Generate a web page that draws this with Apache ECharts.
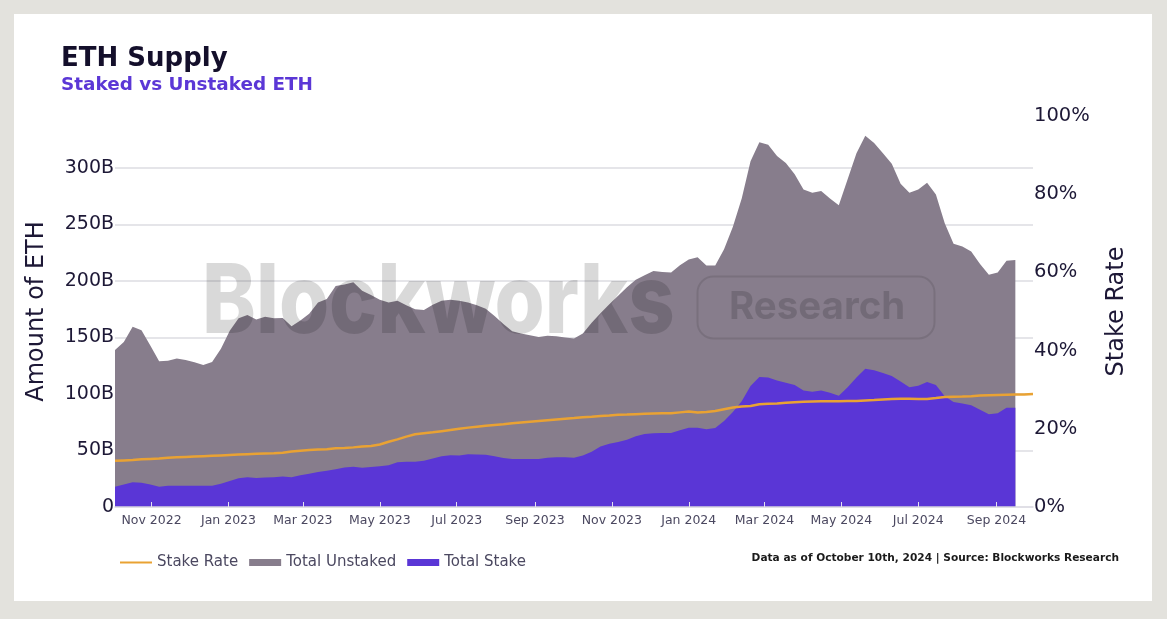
<!DOCTYPE html>
<html>
<head>
<meta charset="utf-8">
<title>ETH Supply</title>
<script src="https://cdn.jsdelivr.net/npm/echarts@6/dist/echarts.min.js"></script>
<style>
html, body { margin: 0; padding: 0; background: #e3e2dd; }
#panel { position: absolute; left: 14px; top: 14px; width: 1138px; height: 587px; background: #fff; }
#main { position: absolute; left: 0; top: 0; width: 1167px; height: 619px; }
</style>
</head>
<body>
<div id="panel"></div>
<div id="main"></div>
<script>
// weekly values, first point is 2022-10-03
var firstWeek = Date.UTC(2022, 9, 3);
var weekMs = 7 * 24 * 3600 * 1000;

// billions
var totalUnstaked = [139, 146, 159.5, 156.5, 143, 129, 129.5, 131.5, 130, 128, 125.7, 128.3, 140, 156, 167, 170, 166, 168.4, 167, 167.3,
    160, 165, 171, 181, 184, 195.6, 197, 198.8, 191.4, 187.5, 183.5, 181, 182.6, 178.5, 175, 174.3, 179, 182.5, 183.5, 182.5,
    181, 178.5, 175.5, 169, 162, 155.6, 153.5, 152, 150.4, 151.5, 151, 150, 149, 153.5, 163, 171.5, 179.5, 187, 194.5, 201,
    205, 208.8, 208, 207.5, 214, 219, 221, 213.6, 213.6, 228, 248, 273, 306, 322.7, 320.5, 310.5, 304.5, 294.5, 281, 278,
    279.6, 273, 267, 290, 313, 328.6, 322, 313, 303.7, 286, 278, 281, 287, 276.5, 251, 233, 230.5, 226, 215, 205.5,
    207.5, 218, 218.6];
var totalStake = [18, 20, 21.8, 21.5, 20, 18, 18.9, 18.9, 18.9, 18.9, 18.9, 18.9, 20.5, 23, 25.4, 26.3, 25.7, 26, 26.3, 27.1,
    26.3, 28, 29.5, 31, 32, 33.5, 35, 35.7, 34.8, 35.4, 36, 37, 39.7, 40, 40, 41, 43, 45, 45.7, 45.5,
    46.6, 46.5, 46.3, 45, 43.3, 42.5, 42.5, 42.5, 42.5, 43.5, 44, 44, 43.6, 45.5, 49, 53.5, 56, 57.5, 59.5, 62.5,
    64.5, 65.3, 65.5, 65.5, 68, 70.2, 70.2, 68.7, 70, 76, 84, 93.5, 107, 115, 114.5, 112, 110, 108, 103, 102,
    103, 101, 98.5, 106, 114.5, 122.4, 121, 118.5, 116, 111, 106, 107.3, 110.6, 108, 98, 93, 91.5, 90, 86, 82,
    83, 87.9, 87.9];
// percent, runs two weeks further than the areas
var stakeRate = [11.8, 11.9, 12, 12.2, 12.3, 12.4, 12.6, 12.7, 12.8, 12.9, 13, 13.1, 13.2, 13.3, 13.4, 13.5, 13.6, 13.7, 13.75, 13.9,
    14.2, 14.4, 14.55, 14.7, 14.8, 15, 15.1, 15.25, 15.45, 15.6, 16, 16.7, 17.3, 18, 18.6, 18.85, 19.1, 19.4, 19.7, 20,
    20.3, 20.55, 20.8, 21, 21.15, 21.4, 21.6, 21.8, 22, 22.2, 22.4, 22.6, 22.75, 22.95, 23.1, 23.3, 23.4, 23.6, 23.65, 23.75,
    23.85, 23.9, 23.95, 24, 24.2, 24.4, 24.15, 24.3, 24.55, 25, 25.45, 25.7, 25.85, 26.3, 26.4, 26.5, 26.65, 26.8, 26.9, 27,
    27.05, 27.05, 27.05, 27.1, 27.1, 27.25, 27.35, 27.5, 27.65, 27.7, 27.7, 27.65, 27.6, 27.85, 28.15, 28.2, 28.25, 28.35, 28.5, 28.6,
    28.65, 28.7, 28.75, 28.8, 28.9];

var tickDates = [[2022, 10], [2023, 0], [2023, 2], [2023, 4], [2023, 6], [2023, 8], [2023, 10], [2024, 0], [2024, 2], [2024, 4], [2024, 6], [2024, 8]];
var monthNames = ['Jan', 'Feb', 'Mar', 'Apr', 'May', 'Jun', 'Jul', 'Aug', 'Sep', 'Oct', 'Nov', 'Dec'];
var tickValues = tickDates.map(function (d) { return Date.UTC(d[0], d[1], 1); });

function withDates(values) {
    return values.map(function (v, i) { return [firstWeek + i * weekMs, v]; });
}

var FONT = '"DejaVu Sans", sans-serif';
var myChart = echarts.init(document.getElementById('main'), null, { renderer: 'canvas' });

var option = {
    animation: false,
    textStyle: { fontFamily: FONT },
    title: [
        { text: 'ETH Supply', left: 61, top: 46, padding: 0, textStyle: { fontFamily: FONT, fontSize: 26, fontWeight: 'bold', color: '#140f2b' } },
        { text: 'Staked vs Unstaked ETH', left: 61, top: 76, padding: 0, textStyle: { fontFamily: FONT, fontSize: 18.4, fontWeight: 'bold', color: '#5b37d6' } },
        { text: 'Data as of October 10th, 2024 | Source: Blockworks Research', right: 48, top: 553, padding: 0, textStyle: { fontFamily: FONT, fontSize: 10.6, fontWeight: 'bold', color: '#1a1a1a' } }
    ],
    legend: {
        left: 119,
        top: 555,
        padding: 0,
        itemWidth: 32,
        itemHeight: 7,
        itemGap: 11,
        textStyle: { fontFamily: FONT, fontSize: 15, color: '#4b4860' },
        data: [
            { name: 'Stake Rate', itemStyle: { opacity: 0 } },
            { name: 'Total Unstaked', icon: 'rect' },
            { name: 'Total Stake', icon: 'rect' }
        ]
    },
    grid: { left: 115, right: 134, top: 116, bottom: 112 },
    xAxis: {
        type: 'value',
        z: 6,
        min: firstWeek,
        max: firstWeek + 104 * weekMs,
        axisLine: { lineStyle: { color: '#d6d5de', width: 1.5 } },
        axisTick: { show: true, inside: true, length: 5, lineStyle: { color: '#e4e2ee' }, customValues: tickValues },
        axisLabel: {
            color: '#4b4860',
            fontSize: 12.5,
            margin: 7,
            customValues: tickValues,
            formatter: function (v) {
                var d = new Date(v);
                return monthNames[d.getUTCMonth()] + ' ' + d.getUTCFullYear();
            }
        },
        splitLine: { show: false }
    },
    yAxis: [
        {
            type: 'value',
            min: 0,
            max: 346,
            interval: 50,
            name: 'Amount of ETH',
            nameLocation: 'middle',
            nameRotate: 90,
            nameGap: 66,
            nameTextStyle: { fontSize: 24, color: '#1d1836' },
            axisLine: { show: false },
            axisTick: { show: false },
            axisLabel: {
                color: '#1d1836',
                fontSize: 19,
                margin: 1,
                padding: [2, 0, 0, 0],
                showMaxLabel: false,
                formatter: function (v) { return v === 0 ? '0' : v + 'B'; }
            },
            splitLine: { show: true, showMaxLine: false, showMinLine: false, lineStyle: { color: '#dddce2', width: 1.5 } }
        },
        {
            type: 'value',
            min: 0,
            max: 100,
            interval: 20,
            name: 'Stake Rate',
            nameLocation: 'middle',
            nameRotate: 90,
            nameGap: 72,
            nameTextStyle: { fontSize: 24, color: '#1d1836' },
            axisLine: { show: false },
            axisTick: { show: false },
            axisLabel: { color: '#1d1836', fontSize: 19.5, margin: 1, padding: [2, 0, 0, 0], formatter: '{value}%' },
            splitLine: { show: false }
        }
    ],
    series: [
        {
            name: 'Stake Rate',
            type: 'line',
            yAxisIndex: 1,
            z: 5,
            symbol: 'none',
            itemStyle: { color: '#e9a233' },
            lineStyle: { color: '#e9a233', width: 2.5 },
            data: withDates(stakeRate)
        },
        {
            name: 'Total Unstaked',
            type: 'line',
            z: 3,
            symbol: 'none',
            itemStyle: { color: '#877d8c' },
            lineStyle: { width: 0 },
            areaStyle: { color: '#877d8c', opacity: 1 },
            data: withDates(totalUnstaked)
        },
        {
            name: 'Total Stake',
            type: 'line',
            z: 4,
            symbol: 'none',
            itemStyle: { color: '#5a36d6' },
            lineStyle: { width: 0 },
            areaStyle: { color: '#5a36d6', opacity: 1 },
            data: withDates(totalStake)
        }
    ],
    // watermark sits over the chart
    graphic: [
        {
            type: 'text', z: 20, x: 202, y: 256, scaleX: 0.845,
            style: { text: 'Blockworks', fontFamily: 'Inter, sans-serif', fontWeight: 800, fontSize: 96, fill: 'rgba(0,0,0,.15)' }
        },
        {
            type: 'rect', z: 20,
            shape: { x: 697.5, y: 276.5, width: 237, height: 62, r: 16 },
            style: { fill: 'none', stroke: 'rgba(0,0,0,.1)', lineWidth: 2 }
        },
        {
            type: 'text', z: 20, x: 729, y: 288,
            style: { text: 'Research', fontFamily: 'Inter, sans-serif', fontWeight: 700, fontSize: 38.5, fill: 'rgba(0,0,0,.15)' }
        }
    ]
};

myChart.setOption(option);
window.addEventListener("resize", function () {
    myChart.resize();
});
</script>
</body>
</html>
